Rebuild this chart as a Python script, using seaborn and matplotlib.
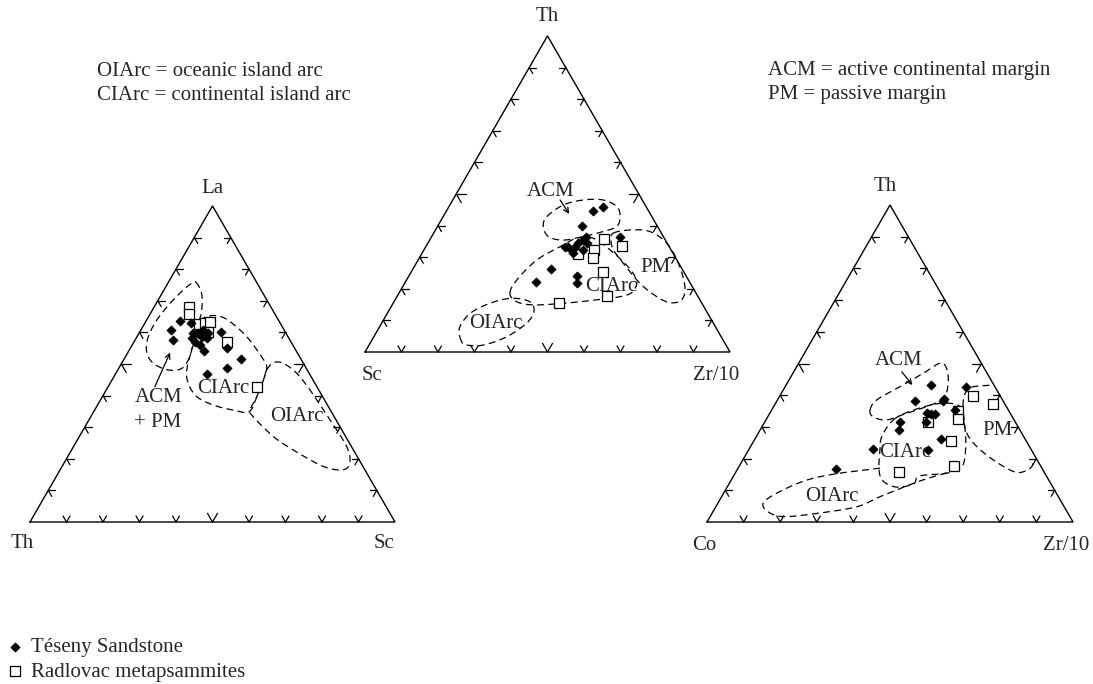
import numpy as np
import pandas as pd
import matplotlib
matplotlib.use("Agg")
import matplotlib.pyplot as plt
import seaborn as sns

sns.set_theme(style="white")
plt.rcParams["font.family"] = ["Liberation Serif", "DejaVu Serif"]

# ---------------------------------------------------------------------------
# Sample compositions (percent). Each diagram: apex, left corner, right corner.
# ---------------------------------------------------------------------------
# La - Th - Sc
lts_tes_La = [63.7, 60.8, 57.6, 63.1, 59.7, 59.7, 58.6, 58.1, 57.1, 56.0, 54.2, 60.0, 55.0, 51.6, 48.8, 46.7, 60.8, 58.2, 59.8]
lts_tes_Th = [27.1, 31.1, 31.9, 24.3, 25.4, 24.0, 23.7, 22.5, 26.2, 25.4, 25.2, 17.8, 18.6, 16.5, 21.5, 28.2, 22.1, 26.5, 21.3]
lts_tes_Sc = [9.2, 8.1, 10.5, 12.6, 14.9, 16.3, 17.7, 19.4, 16.7, 18.6, 20.6, 22.2, 26.4, 31.9, 29.7, 25.1, 17.1, 15.3, 18.9]
lts_rad_La = [68.1, 65.7, 62.7, 63.0, 63.2, 60.2, 57.0, 42.6]
lts_rad_Th = [22.4, 23.6, 22.3, 20.6, 19.1, 21.2, 17.4, 16.6]
lts_rad_Sc = [9.5, 10.7, 15.0, 16.4, 17.7, 18.6, 25.6, 40.8]

# Th - Sc - Zr/10
tsz_tes_Th = [46.0, 44.7, 40.0, 36.5, 35.4, 34.6, 33.3, 32.3, 33.3, 32.3, 34.4, 36.5, 26.2, 22.1, 24.1, 21.9, 33.3, 31.3]
tsz_tes_Sc = [11.9, 15.3, 20.6, 21.2, 22.5, 24.3, 27.6, 27.2, 25.8, 24.0, 22.1, 11.9, 36.0, 42.2, 30.0, 31.1, 28.6, 27.4]
tsz_tes_Zr = [42.1, 40.0, 39.4, 42.3, 42.1, 41.1, 39.1, 40.5, 40.9, 43.7, 43.5, 51.6, 37.8, 35.7, 45.9, 47.0, 38.1, 41.3]
tsz_rad_Th = [35.8, 33.6, 32.3, 30.9, 29.8, 25.2, 17.7, 15.6]
tsz_rad_Sc = [16.6, 12.9, 21.0, 26.1, 22.7, 22.3, 24.8, 39.0]
tsz_rad_Zr = [47.6, 53.5, 46.7, 43.0, 47.5, 52.5, 57.5, 45.4]

# Th - Co - Zr/10
tcz_tes_Th = [43.2, 38.2, 38.8, 38.3, 42.5, 35.3, 34.3, 34.1, 34.1, 31.5, 31.6, 29.0, 26.2, 22.9, 22.7, 16.6]
tcz_tes_Co = [17.2, 24.1, 15.8, 16.4, 8.1, 14.6, 22.8, 21.8, 20.7, 24.4, 31.5, 33.0, 23.0, 43.1, 28.4, 56.5]
tcz_tes_Zr = [39.6, 37.7, 45.4, 45.3, 49.4, 50.1, 42.9, 44.1, 45.2, 44.1, 36.9, 38.0, 50.8, 34.0, 48.9, 26.9]
tcz_rad_Th = [39.8, 37.2, 35.1, 32.5, 31.6, 25.6, 17.8, 15.7]
tcz_rad_Co = [7.3, 3.2, 13.8, 15.3, 23.7, 20.6, 23.6, 39.7]
tcz_rad_Zr = [52.9, 59.6, 51.1, 52.2, 44.7, 53.8, 58.6, 44.6]

# Tectonic-setting field outlines as (apex %, right-corner %) pairs
LTS_ACM_PM = [(75.9, 7.5), (72.4, 10.8), (67.1, 13.5), (62.3, 14.9), (57.6, 16.1), (52.3, 17.6),
              (48.6, 17.3), (48.1, 13.8), (50.2, 8.7), (53.9, 5.0), (58.6, 3.1), (63.9, 2.8),
              (69.2, 3.8), (73.4, 5.3), (75.5, 6.5)]
LTS_CIARC = [(63.4, 14.9), (65.0, 15.9), (65.2, 19.0), (63.4, 23.1), (58.6, 30.1), (52.3, 37.3),
             (49.1, 40.3), (44.9, 41.5), (39.7, 42.3), (34.9, 42.6), (35.4, 38.0), (37.0, 31.7),
             (39.7, 25.8), (43.9, 21.4), (48.1, 18.9), (54.4, 17.1), (59.2, 16.1)]
LTS_OIARC = [(48.1, 40.8), (50.4, 41.5), (50.2, 44.3), (47.1, 49.5), (41.8, 55.8), (35.4, 62.7),
             (29.1, 69.5), (23.8, 74.9), (19.6, 77.9), (17.0, 78.3), (16.5, 75.8), (18.0, 70.5),
             (22.8, 60.7), (27.0, 53.2), (33.3, 44.5), (35.4, 42.6), (39.7, 42.3), (44.9, 41.5)]

TSZ_ACM = [(42.8, 28.4), (46.5, 31.1), (48.1, 35.8), (48.1, 41.2), (46.0, 46.0), (42.8, 48.5),
           (39.7, 49.1), (38.1, 46.2), (36.5, 41.5), (35.4, 36.6), (36.5, 32.0), (39.7, 29.0)]
TSZ_CIARC = [(18.6, 30.4), (22.8, 30.2), (29.1, 32.5), (33.3, 36.8), (36.0, 40.0), (36.0, 44.5),
             (32.3, 51.0), (27.5, 57.9), (23.8, 62.1), (20.7, 63.9), (18.0, 62.7), (16.5, 55.2),
             (15.4, 46.6), (14.9, 38.7), (15.9, 33.6)]
TSZ_PM = [(37.6, 49.2), (38.6, 53.3), (38.1, 59.0), (34.4, 65.5), (28.1, 71.8), (20.7, 77.3),
          (16.5, 78.5), (15.6, 75.8), (17.5, 71.2), (21.7, 64.5), (28.1, 56.7), (32.3, 51.9),
          (35.4, 49.7)]
TSZ_OIARC = [(3.3, 24.8), (7.5, 22.1), (12.2, 22.7), (15.4, 26.5), (17.0, 31.7), (15.9, 37.2),
             (12.8, 39.9), (9.1, 39.7), (4.8, 36.4), (2.2, 31.3), (2.2, 26.8)]

TCZ_ACM = [(35.3, 26.9), (38.5, 27.1), (42.7, 31.4), (46.9, 35.6), (50.1, 38.6), (48.5, 41.2),
           (43.8, 44.0), (39.0, 45.1), (36.4, 41.8), (34.3, 37.4), (32.2, 33.0), (33.2, 28.8)]
TCZ_CIARC = [(32.2, 34.8), (35.3, 38.7), (37.4, 45.0), (36.4, 50.9), (30.1, 55.4), (22.7, 59.3),
             (17.4, 60.9), (15.4, 57.8), (14.5, 50.8), (12.0, 50.4), (11.0, 46.3), (12.9, 41.7),
             (16.4, 38.8), (22.7, 35.9), (26.9, 34.3)]
TCZ_OIARC = [(17.0, 38.8), (15.4, 28.6), (13.2, 20.6), (9.1, 14.5), (5.9, 12.4), (3.2, 15.1),
             (1.7, 20.0), (2.7, 28.6), (4.8, 38.5), (8.0, 43.3), (12.2, 50.3), (14.3, 54.7),
             (16.4, 60.0)]
TCZ_PM = [(18.5, 79.9), (16.9, 79.8), (15.6, 77.7), (16.4, 74.6), (19.6, 68.4), (23.8, 61.8),
          (28.0, 57.0), (33.2, 53.4), (38.5, 50.8), (41.6, 50.2), (42.7, 51.4), (43.2, 56.6)]

# Field names placed inside the diagrams: (text, apex %, right %)
LTS_LABELS = [("ACM\n+ PM", 35.4, 17.4), ("CIArc", 42.1, 31.9), ("OIArc", 33.5, 56.3)]
TSZ_LABELS = [("ACM", 50.7, 25.5), ("CIArc", 20.7, 57.2), ("PM", 26.8, 66.3), ("OIArc", 9.1, 31.3)]
TCZ_LABELS = [("ACM", 51.1, 26.7), ("CIArc", 22.0, 43.1), ("PM", 29.0, 64.9), ("OIArc", 8.2, 30.0)]

# Pointer arrows: (tail apex %, tail right %, head apex %, head right %)
LTS_ARROW = (42.8, 12.8, 53.6, 11.6)
TSZ_ARROW = (48.1, 29.4, 43.7, 34.1)
TCZ_ARROW = (47.4, 29.5, 43.2, 34.5)

SERIES_TES = "Téseny Sandstone"
SERIES_RAD = "Radlovac metapsammites"

FS = 15
SQ3 = np.sqrt(3) / 2


class Ternary:
    """Equilateral ternary frame placed on a pixel-like canvas."""

    def __init__(self, ax, x0, y0, side, corners, label_offsets):
        self.ax, self.x0, self.y0, self.side = ax, x0, y0, side
        self.corners = corners
        self.label_offsets = label_offsets

    def xy(self, top, right):
        top = np.asarray(top, float) / 100.0
        right = np.asarray(right, float) / 100.0
        x = self.x0 + self.side * (right + top / 2.0)
        y = self.y0 - self.side * SQ3 * top
        return x, y

    def frame(self):
        ax = self.ax
        L = np.array(self.xy(0, 0))
        R = np.array(self.xy(0, 100))
        T = np.array(self.xy(100, 0))
        ax.plot([L[0], R[0], T[0], L[0]], [L[1], R[1], T[1], L[1]],
                color="black", lw=1.0, solid_joinstyle="miter", zorder=2)
        up = lambda deg: np.array([np.cos(np.radians(deg)), -np.sin(np.radians(deg))])
        sides = [(L, R, (60, 120)), (L, T, (0, -60)), (R, T, (180, 240))]
        for A, B, angs in sides:
            for k in range(1, 10):
                p = A + (B - A) * k / 10.0
                ln = 10.0 if k == 5 else 7.0
                for a in angs:
                    q = p + ln * up(a)
                    ax.plot([p[0], q[0]], [p[1], q[1]], color="black", lw=0.9, zorder=2)
        top_name, left_name, right_name = self.corners
        (dtx, dty), (dlx, dly), (drx, dry) = self.label_offsets
        ax.text(T[0] + dtx, T[1] + dty, top_name, ha="center", va="center", fontsize=FS)
        ax.text(L[0] + dlx, L[1] + dly, left_name, ha="center", va="center", fontsize=FS)
        ax.text(R[0] + drx, R[1] + dry, right_name, ha="center", va="center", fontsize=FS)

    def field(self, pts, closed=True):
        top = [p[0] for p in pts]
        right = [p[1] for p in pts]
        x, y = self.xy(top, right)
        xs, ys = smooth(np.asarray(x), np.asarray(y), closed)
        self.ax.plot(xs, ys, color="black", lw=0.9, ls=(0, (5.5, 3.5)), zorder=3)

    def labels(self, items):
        for text, top, right in items:
            x, y = self.xy(top, right)
            self.ax.text(x, y, text, ha="center", va="center", fontsize=FS,
                         linespacing=1.45, zorder=5)

    def arrow(self, spec):
        tx, ty = self.xy(spec[0], spec[1])
        hx, hy = self.xy(spec[2], spec[3])
        self.ax.annotate("", xy=(hx, hy), xytext=(tx, ty),
                         arrowprops=dict(arrowstyle="->", lw=0.9, color="black",
                                         mutation_scale=9, shrinkA=0, shrinkB=0))


def smooth(x, y, closed, n=12):
    """Catmull-Rom spline through the outline vertices."""
    P = np.column_stack([x, y])
    if closed:
        P = np.vstack([P[-1], P, P[0], P[1]])
    else:
        P = np.vstack([P[0], P, P[-1]])
    out = []
    t = np.linspace(0, 1, n, endpoint=False)[:, None]
    for i in range(1, len(P) - 2):
        p0, p1, p2, p3 = P[i - 1], P[i], P[i + 1], P[i + 2]
        seg = 0.5 * ((2 * p1) + (-p0 + p2) * t + (2 * p0 - 5 * p1 + 4 * p2 - p3) * t ** 2
                     + (-p0 + 3 * p1 - 3 * p2 + p3) * t ** 3)
        out.append(seg)
    out.append(P[-2][None, :])
    out = np.vstack(out)
    return out[:, 0], out[:, 1]


fig = plt.figure(figsize=(10.93, 6.84), dpi=100)
ax = fig.add_axes([0, 0, 1, 1])
ax.set_xlim(0, 1093)
ax.set_ylim(684, 0)
ax.set_aspect("equal")
ax.axis("off")

t1 = Ternary(ax, 30, 522, 365, ("La", "Th", "Sc"), ((0, -17), (-8, 22), (-11, 22)))
t2 = Ternary(ax, 365, 352, 365, ("Th", "Sc", "Zr/10"), ((0, -19), (7, 24), (-14, 24)))
t3 = Ternary(ax, 707, 522, 366, ("Th", "Co", "Zr/10"), ((-5, -19), (-3, 24), (-7, 24)))

for t in (t1, t2, t3):
    t.frame()

t1.field(LTS_ACM_PM)
t1.field(LTS_CIARC)
t1.field(LTS_OIARC)
t2.field(TSZ_ACM)
t2.field(TSZ_CIARC)
t2.field(TSZ_PM)
t2.field(TSZ_OIARC)
t3.field(TCZ_ACM)
t3.field(TCZ_CIARC)
t3.field(TCZ_OIARC, closed=False)
t3.field(TCZ_PM, closed=False)

t1.labels(LTS_LABELS)
t2.labels(TSZ_LABELS)
t3.labels(TCZ_LABELS)
t1.arrow(LTS_ARROW)
t2.arrow(TSZ_ARROW)
t3.arrow(TCZ_ARROW)

# Assemble sample points in canvas coordinates
frames = []
for t, top, right, name in [
    (t1, lts_tes_La, lts_tes_Sc, SERIES_TES), (t1, lts_rad_La, lts_rad_Sc, SERIES_RAD),
    (t2, tsz_tes_Th, tsz_tes_Zr, SERIES_TES), (t2, tsz_rad_Th, tsz_rad_Zr, SERIES_RAD),
    (t3, tcz_tes_Th, tcz_tes_Zr, SERIES_TES), (t3, tcz_rad_Th, tcz_rad_Zr, SERIES_RAD),
]:
    x, y = t.xy(top, right)
    frames.append(pd.DataFrame({"x": x, "y": y, "series": name}))
pts = pd.concat(frames, ignore_index=True)

sns.scatterplot(data=pts[pts.series == SERIES_RAD], x="x", y="y", marker="s", s=42,
                facecolor="white", edgecolor="black", linewidth=0.9, ax=ax,
                label=SERIES_RAD, zorder=4)
sns.scatterplot(data=pts[pts.series == SERIES_TES], x="x", y="y", marker="D", s=22,
                color="black", edgecolor="black", linewidth=0.5, ax=ax,
                label=SERIES_TES, zorder=6)
ax.axis("off")

handles, labs = ax.get_legend_handles_labels()
order = [labs.index(SERIES_TES), labs.index(SERIES_RAD)]
leg = ax.legend([handles[i] for i in order], [labs[i] for i in order],
                loc="upper left", bbox_to_anchor=(0.008, 0.068), frameon=False,
                fontsize=FS, handlelength=0.6, handletextpad=0.45, labelspacing=0.25,
                borderpad=0, borderaxespad=0, markerscale=1.0)

# Abbreviation notes
ax.text(97, 71, "OIArc = oceanic island arc", fontsize=FS, va="center", ha="left")
ax.text(97, 96, "CIArc = continental island arc", fontsize=FS, va="center", ha="left")
ax.text(768, 70, "ACM = active continental margin", fontsize=FS, va="center", ha="left")
ax.text(768, 95, "PM = passive margin", fontsize=FS, va="center", ha="left")

fig.savefig("out.png", dpi=100, facecolor="white")
